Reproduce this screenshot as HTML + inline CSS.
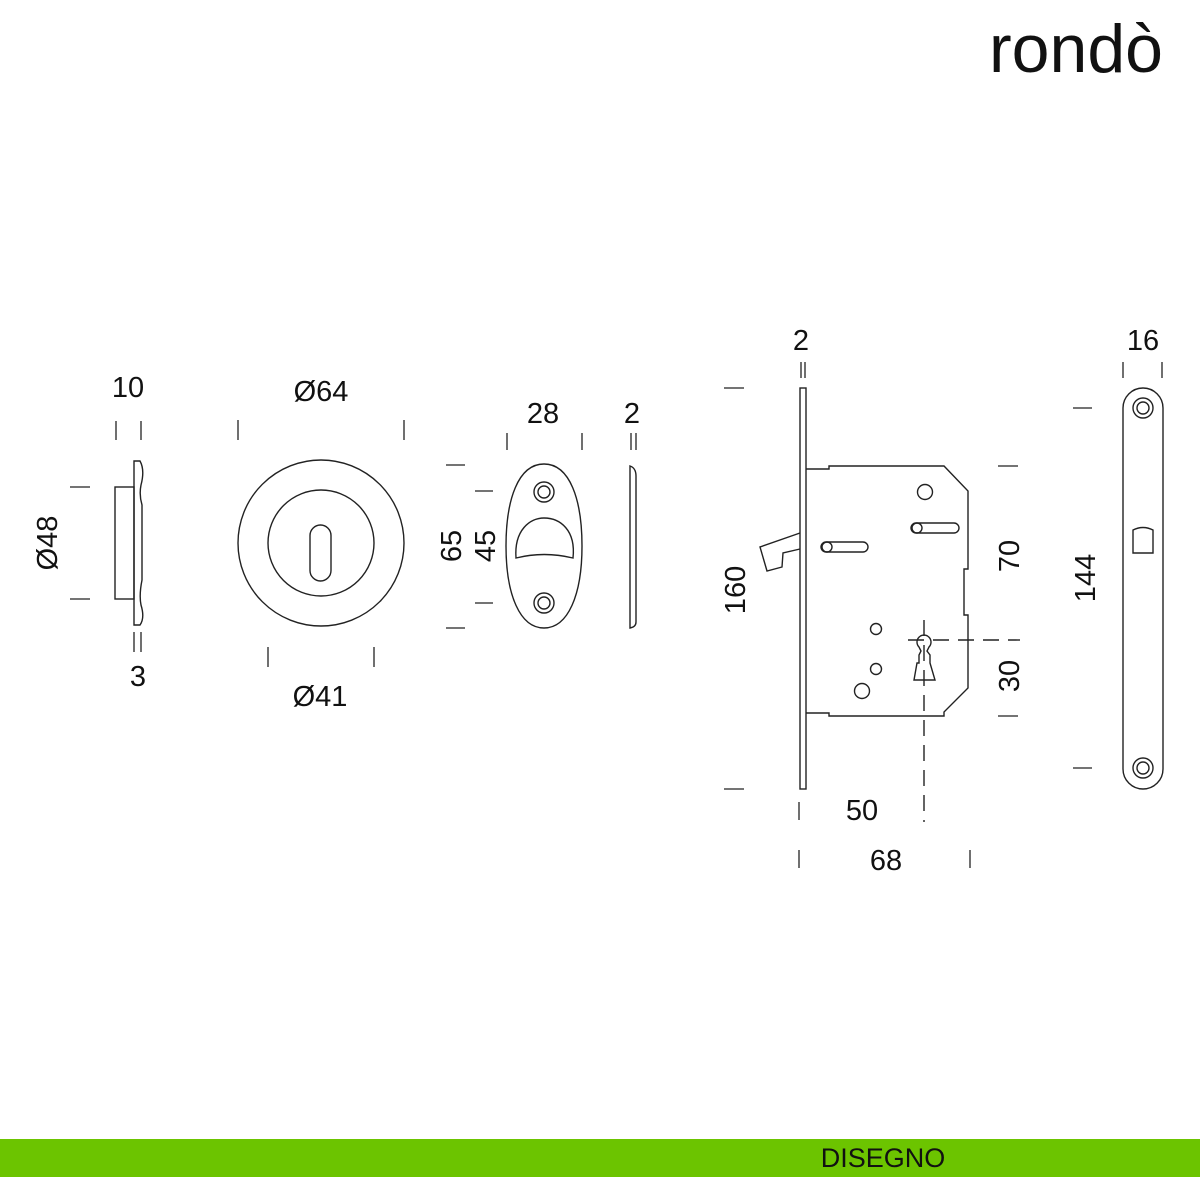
<!DOCTYPE html>
<html><head><meta charset="utf-8"><style>
html,body{margin:0;padding:0;background:#fff;}
svg{display:block;}
text{font-family:"Liberation Sans",Arial,sans-serif;fill:#111;}
</style></head><body>
<svg width="1200" height="1200" viewBox="0 0 1200 1200" xmlns="http://www.w3.org/2000/svg">
<text x="1076" y="72" font-size="68" text-anchor="middle" fill="#000">rondò</text>

<g stroke="#222" stroke-width="1.4" fill="none">
<!-- side escutcheon -->
<rect x="115" y="487" width="19" height="112"/>
<path d="M134,461 L140,461 Q145,470 141,485 Q139,495 142,505 L142,580 Q139,595 141,605 Q145,618 140,625 L134,625 Z"/>
<!-- round escutcheon -->
<circle cx="321" cy="543" r="83"/>
<circle cx="321" cy="543" r="53"/>
<rect x="310" y="525" width="21" height="56" rx="10.5"/>
<!-- oval rosette -->
<path d="M544,464 C570,464 582,500 582,546 C582,595 568,628 544,628 C520,628 506,595 506,546 C506,500 518,464 544,464 Z"/>
<circle cx="544" cy="492" r="10"/><circle cx="544" cy="492" r="6"/>
<circle cx="544" cy="603" r="10"/><circle cx="544" cy="603" r="6"/>
<path d="M516,558 C514,530 530,518 544,518 C560,518 576,530 573,558 Q544,551 516,558 Z"/>
<!-- thin plate -->
<path d="M630,466 Q636,468 636,476 L636,622 Q636,627 630,628 Z"/>
<!-- lock -->
<rect x="800" y="388" width="6" height="401"/>
<path d="M806,469 L829,469 L829,466 L944,466 L968,491 L968,569 L964,569 L964,615 L968,615 L968,688 L944,712 L944,716 L829,716 L829,713 L806,713"/>
<path d="M800,533 L760,547 L767,571 L782,567 L783,553 L800,549"/>
<rect x="821" y="542" width="47" height="10" rx="5"/><circle cx="827" cy="547" r="5"/>
<rect x="911" y="523" width="48" height="10" rx="5"/><circle cx="917" cy="528" r="5"/>
<circle cx="925" cy="492" r="7.5"/>
<circle cx="876" cy="629" r="5.5"/>
<circle cx="876" cy="669" r="5.5"/>
<circle cx="862" cy="691" r="7.5"/>
<path d="M919,647 A7,7 0 1 1 929,647 L927,651 L930,655 L930,663 L935,680 L914,680 L917,663 L919,663 L919,655 L921,651 Z"/>
<!-- strike plate -->
<rect x="1123" y="388" width="40" height="401" rx="20"/>
<circle cx="1143" cy="408" r="10"/><circle cx="1143" cy="408" r="6"/>
<circle cx="1143" cy="768" r="10"/><circle cx="1143" cy="768" r="6"/>
<path d="M1133,553 L1133,530 Q1143,525 1153,530 L1153,553 Z"/>
</g>

<g stroke="#222" stroke-width="1.4" stroke-dasharray="16,9" fill="none">
<line x1="924" y1="620" x2="924" y2="822"/>
<line x1="908" y1="640" x2="1020" y2="640"/>
</g>

<g stroke="#222" stroke-width="1.3">
<line x1="116" y1="421" x2="116" y2="440"/><line x1="141" y1="421" x2="141" y2="440"/>
<line x1="70" y1="487" x2="90" y2="487"/><line x1="70" y1="599" x2="90" y2="599"/>
<line x1="134" y1="632" x2="134" y2="652"/><line x1="141" y1="632" x2="141" y2="652"/>
<line x1="238" y1="420" x2="238" y2="440"/><line x1="404" y1="420" x2="404" y2="440"/>
<line x1="268" y1="647" x2="268" y2="667"/><line x1="374" y1="647" x2="374" y2="667"/>
<line x1="446" y1="465" x2="465" y2="465"/><line x1="446" y1="628" x2="465" y2="628"/>
<line x1="475" y1="491" x2="493" y2="491"/><line x1="475" y1="603" x2="493" y2="603"/>
<line x1="507" y1="433" x2="507" y2="450"/><line x1="582" y1="433" x2="582" y2="450"/>
<line x1="631" y1="433" x2="631" y2="450"/><line x1="636" y1="433" x2="636" y2="450"/>
<line x1="724" y1="388" x2="744" y2="388"/><line x1="724" y1="789" x2="744" y2="789"/>
<line x1="801" y1="362" x2="801" y2="378"/><line x1="805" y1="362" x2="805" y2="378"/>
<line x1="998" y1="466" x2="1018" y2="466"/><line x1="998" y1="716" x2="1018" y2="716"/>
<line x1="799" y1="802" x2="799" y2="820"/>
<line x1="799" y1="850" x2="799" y2="868"/><line x1="970" y1="850" x2="970" y2="868"/>
<line x1="1073" y1="408" x2="1092" y2="408"/><line x1="1073" y1="768" x2="1092" y2="768"/>
<line x1="1123" y1="362" x2="1123" y2="378"/><line x1="1162" y1="362" x2="1162" y2="378"/>
</g>

<g font-size="29" text-anchor="middle">
<text x="128" y="397">10</text>
<text x="138" y="686">3</text>
<text transform="translate(57,543) rotate(-90)">Ø48</text>
<text x="321" y="401">Ø64</text>
<text x="320" y="706">Ø41</text>
<text x="543" y="423">28</text>
<text x="632" y="423">2</text>
<text transform="translate(461,546) rotate(-90)">65</text>
<text transform="translate(495,546) rotate(-90)">45</text>
<text x="801" y="350">2</text>
<text transform="translate(745,590) rotate(-90)">160</text>
<text transform="translate(1019,556) rotate(-90)">70</text>
<text transform="translate(1019,676) rotate(-90)">30</text>
<text x="862" y="820">50</text>
<text x="886" y="870">68</text>
<text x="1143" y="350">16</text>
<text transform="translate(1095,578) rotate(-90)">144</text>
</g>

<rect x="0" y="1139" width="1200" height="38" fill="#6cc400"/>
<text x="883" y="1167" font-size="27" text-anchor="middle" fill="#111">DISEGNO</text>
</svg>
</body></html>
